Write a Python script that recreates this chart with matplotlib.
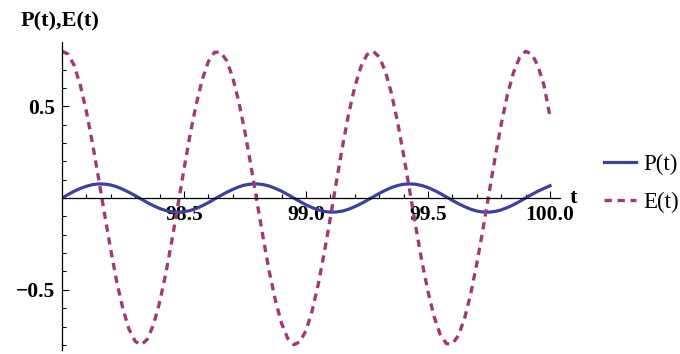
import numpy as np
import matplotlib
matplotlib.use("Agg")
import matplotlib.pyplot as plt
from matplotlib.ticker import MultipleLocator, FixedLocator

# datos (t de 98 a 100, paso 0.025)
t = np.linspace(98.0, 100.0, 81)

P = [0.000, 0.019, 0.037, 0.052, 0.064, 0.073, 0.077, 0.076, 0.071, 0.061,
     0.047, 0.031, 0.013, -0.006, -0.025, -0.042, -0.057, -0.068, -0.075, -0.077,
     -0.075, -0.068, -0.057, -0.042, -0.025, -0.006, 0.013, 0.031, 0.047, 0.061,
     0.071, 0.076, 0.077, 0.073, 0.065, 0.052, 0.037, 0.019, 0.000, -0.019,
     -0.037, -0.052, -0.064, -0.073, -0.077, -0.076, -0.071, -0.061, -0.047, -0.031,
     -0.013, 0.006, 0.025, 0.042, 0.057, 0.068, 0.075, 0.077, 0.075, 0.068,
     0.057, 0.042, 0.025, 0.006, -0.013, -0.031, -0.047, -0.061, -0.071, -0.076,
     -0.077, -0.073, -0.065, -0.052, -0.037, -0.019, 0.000, 0.019, 0.037, 0.052,
     0.067]

E = [0.799, 0.784, 0.722, 0.615, 0.471, 0.297, 0.106, -0.092, -0.284, -0.460,
     -0.606, -0.716, -0.781, -0.800, -0.769, -0.690, -0.569, -0.414, -0.235, -0.040,
     0.158, 0.346, 0.510, 0.647, 0.744, 0.794, 0.795, 0.748, 0.655, 0.522,
     0.358, 0.171, -0.026, -0.221, -0.404, -0.560, -0.683, -0.765, -0.799, -0.784,
     -0.722, -0.615, -0.471, -0.297, -0.106, 0.092, 0.284, 0.460, 0.606, 0.715,
     0.781, 0.800, 0.769, 0.691, 0.571, 0.416, 0.235, 0.041, -0.157, -0.345,
     -0.510, -0.646, -0.743, -0.793, -0.795, -0.748, -0.655, -0.523, -0.357, -0.173,
     0.025, 0.221, 0.402, 0.560, 0.682, 0.764, 0.799, 0.785, 0.722, 0.616,
     0.445]

xticks = [98.5, 99.0, 99.5, 100.0]
xlabels = ["98.5", "99.0", "99.5", "100.0"]
yticks = [-0.5, 0.5]
ylabels = ["\u22120.5", "0.5"]

col_p = "#3f3f9d"
col_e = "#9e3a78"
serif = "Liberation Serif"

fig = plt.figure(figsize=(6.8, 3.54), dpi=100)
ax = fig.add_axes([62 / 680, 4 / 354, 498 / 680, 308 / 354])

ax.plot(t, P, color=col_p, lw=2.3, label="P(t)")
ax.plot(t, E, color=col_e, lw=2.4, dashes=(2.2, 1.7), label="E(t)")

ax.set_xlim(98.0, 100.041)
ax.set_ylim(-0.828, 0.85)

# ejes estilo Mathematica
ax.spines["top"].set_visible(False)
ax.spines["right"].set_visible(False)
ax.spines["bottom"].set_position(("data", 0))
ax.spines["left"].set_position(("data", 98.0))
for s in ("bottom", "left"):
    ax.spines[s].set_linewidth(0.9)

ax.xaxis.set_major_locator(FixedLocator(xticks))
ax.set_xticklabels(xlabels)
ax.xaxis.set_minor_locator(MultipleLocator(0.1))
ax.yaxis.set_major_locator(FixedLocator(yticks))
ax.set_yticklabels(ylabels)
ax.yaxis.set_minor_locator(MultipleLocator(0.1))

ax.tick_params(which="both", direction="in", width=0.8)
ax.tick_params(which="major", length=5, pad=5)
ax.tick_params(which="minor", length=3)
for lab in ax.get_xticklabels() + ax.get_yticklabels():
    lab.set_fontfamily(serif)
    lab.set_fontweight("bold")
    lab.set_fontsize(15.5)

fig.text(21 / 680, 1 - 21 / 354, "P(t),E(t)", fontsize=16, fontweight="bold",
         fontfamily=serif, va="center", ha="left")
fig.text(570 / 680, (354 - 203) / 354, "t", fontsize=16, fontweight="bold",
         fontfamily=serif, va="baseline", ha="left")

leg = fig.legend(loc="upper left", bbox_to_anchor=(604 / 680, 1 - 154 / 354),
                 frameon=False, borderpad=0, borderaxespad=0,
                 handlelength=1.4, handletextpad=0.3, labelspacing=0.75,
                 prop={"family": serif, "size": 16.5})

fig.savefig("out.png", dpi=100)
